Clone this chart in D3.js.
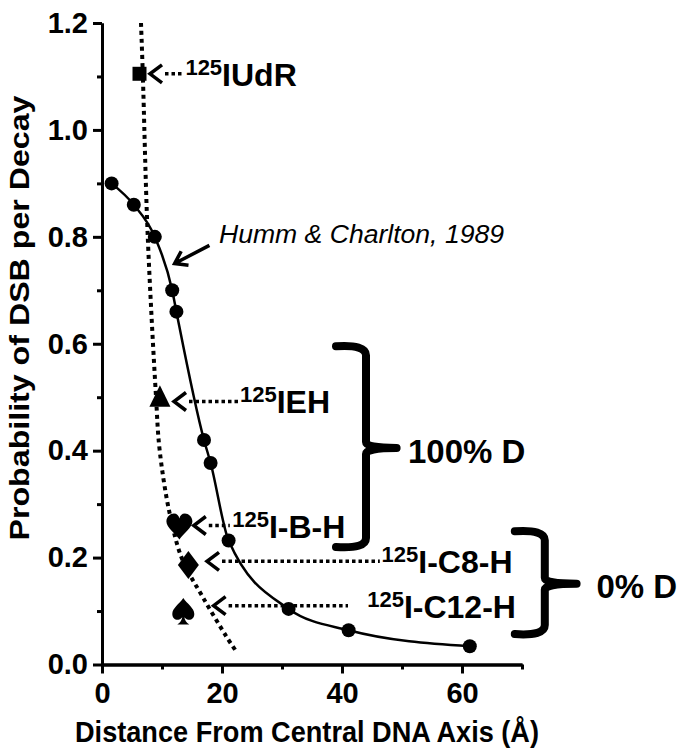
<!DOCTYPE html>
<html>
<head>
<meta charset="utf-8">
<script src="https://cdn.jsdelivr.net/npm/d3@7"></script>
<style>
  body { margin: 0; background: #fff; }
  text { font-family: "Liberation Sans", Arial, sans-serif; fill: #000; }
</style>
</head>
<body>
<script>
var w = 684;
var h = 750;

// Humm & Charlton, 1989 (circles, solid curve)
var hummX = [1.6, 5.3, 8.8, 11.7, 12.4, 17.0, 18.1, 21.1, 31.1, 41.1, 61.3];
var hummY = [0.90, 0.86, 0.80, 0.70, 0.66, 0.42, 0.377, 0.232, 0.104, 0.064, 0.034];

// dotted curve
var dotX = [6.5, 6.8, 7.6, 9.0, 9.6, 11.25, 13.4, 16.75, 20.75, 22.4];
var dotY = [1.2, 1.105, 0.807, 0.501, 0.402, 0.284, 0.196, 0.127, 0.052, 0.024];

// compounds
var compounds = ["IUdR", "IEH", "I-B-H", "I-C8-H", "I-C12-H"];
var compShape = ["square", "triangle", "heart", "diamond", "spade"];
var compX = [6.25, 9.65, 12.9, 14.4, 13.55];
var compY = [1.105, 0.50, 0.26, 0.186, 0.10];

// annotation arrows (tip x, end x, y)
var arrowTipX = [8.0, 12.0, 15.3, 17.5, 18.6];
var arrowEndX = [13.5, 22.7, 21.3, 46.3, 41.0];
var arrowY = [1.105, 0.492, 0.26, 0.193, 0.11];
var labelX = [13.9, 23.0, 21.7, 46.6, 44.2];

var xTicks = [0, 20, 40, 60];
var xMinor = [10, 30, 50, 70];
var yTicks = [0, 0.2, 0.4, 0.6, 0.8, 1.0, 1.2];
var yMinor = [0.1, 0.3, 0.5, 0.7, 0.9, 1.1];

var x = d3.scaleLinear()
  .domain([0, 70])
  .range([102, 522]);

var y = d3.scaleLinear()
  .domain([0, 1.2])
  .range([664.5, 23]);

var svg = d3.select("body").append("svg")
  .attr("width", w)
  .attr("height", h);

// axes
svg.append("g")
  .attr("transform", "translate(0," + y(0) + ")")
  .call(d3.axisBottom(x).tickValues(xTicks).tickSize(9).tickPadding(9).tickSizeOuter(0).tickFormat(d3.format("d")));
svg.append("g")
  .attr("transform", "translate(0," + y(0) + ")")
  .call(d3.axisBottom(x).tickValues(xMinor).tickSize(5).tickSizeOuter(0).tickFormat(""));

svg.append("g")
  .attr("transform", "translate(" + x(0) + ",0)")
  .call(d3.axisLeft(y).tickValues(yTicks).tickSize(9).tickPadding(5).tickSizeOuter(0).tickFormat(d3.format(".1f")));
svg.append("g")
  .attr("transform", "translate(" + x(0) + ",0)")
  .call(d3.axisLeft(y).tickValues(yMinor).tickSize(5).tickSizeOuter(0).tickFormat(""));

svg.selectAll(".domain, .tick line")
  .attr("stroke", "#000")
  .attr("stroke-width", 3);
svg.selectAll(".tick text")
  .style("font-size", "29px")
  .style("font-weight", "bold")
  .style("font-family", "'Liberation Sans', Arial, sans-serif");

svg.append("text")
  .attr("x", 307)
  .attr("y", 742)
  .attr("text-anchor", "middle")
  .attr("textLength", 464)
  .attr("lengthAdjust", "spacingAndGlyphs")
  .style("font-size", "29px")
  .style("font-weight", "bold")
  .text("Distance From Central DNA Axis (\u00C5)");

svg.append("text")
  .attr("transform", "translate(29,318) rotate(-90)")
  .attr("text-anchor", "middle")
  .attr("textLength", 445)
  .attr("lengthAdjust", "spacingAndGlyphs")
  .style("font-size", "28px")
  .style("font-weight", "bold")
  .text("Probability of DSB per Decay");

// dotted curve
var dotData = dotX.map(function (d, i) { return [d, dotY[i]]; });
svg.append("path")
  .datum(dotData)
  .attr("fill", "none")
  .attr("stroke", "#000")
  .attr("stroke-width", 4)
  .attr("stroke-dasharray", "4,4")
  .attr("d", d3.line()
    .x(function (d) { return x(d[0]); })
    .y(function (d) { return y(d[1]); })
    .curve(d3.curveCatmullRom));

// Humm curve + circles
var hummData = hummX.map(function (d, i) { return [d, hummY[i]]; });
svg.append("path")
  .datum(hummData)
  .attr("fill", "none")
  .attr("stroke", "#000")
  .attr("stroke-width", 2.5)
  .attr("d", d3.line()
    .x(function (d) { return x(d[0]); })
    .y(function (d) { return y(d[1]); })
    .curve(d3.curveMonotoneX));

svg.selectAll(".pt")
  .data(hummData)
  .enter()
  .append("circle")
  .attr("cx", function (d) { return x(d[0]); })
  .attr("cy", function (d) { return y(d[1]); })
  .attr("r", 7)
  .attr("fill", "#000");

// compound markers
var shapes = {
  square: "M-7,-7H7V7H-7Z",
  triangle: "M0,-12L10.5,9.5L-10.5,9.5Z",
  heart: "M0,14C-4,8 -13,2 -13,-4C-13,-9 -9,-12 -5.5,-12C-2.5,-12 -0.5,-10 0,-7C0.5,-10 2.5,-12 5.5,-12C9,-12 13,-9 13,-4C13,2 4,8 0,14Z",
  diamond: "M0,-14L10.5,0L0,14L-10.5,0Z",
  spade: "M0,-13C4,-7 11,-3 11,3C11,7.5 7.5,9.5 4,8.5C2.5,7.8 1.5,7 1,6C1.5,9 3,11.5 6,13.5L-6,13.5C-3,11.5 -1.5,9 -1,6C-1.5,7 -2.5,7.8 -4,8.5C-7.5,9.5 -11,7.5 -11,3C-11,-3 -4,-7 0,-13Z"
};
svg.selectAll(".cmp")
  .data(compounds)
  .enter()
  .append("path")
  .attr("transform", function (d, i) { return "translate(" + x(compX[i]) + "," + y(compY[i]) + ")"; })
  .attr("d", function (d, i) { return shapes[compShape[i]]; })
  .attr("fill", "#000");

// arrows and labels
compounds.forEach(function (c, i) {
  var tx = x(arrowTipX[i]), ty = y(arrowY[i]);
  svg.append("path")
    .attr("d", "M" + (tx + 12) + "," + (ty - 9) + "L" + tx + "," + ty + "L" + (tx + 12) + "," + (ty + 9))
    .attr("fill", "none")
    .attr("stroke", "#000")
    .attr("stroke-width", 3.5);
  svg.append("line")
    .attr("x1", tx + 15)
    .attr("x2", x(arrowEndX[i]))
    .attr("y1", ty)
    .attr("y2", ty)
    .attr("stroke", "#000")
    .attr("stroke-width", 3.5)
    .attr("stroke-dasharray", "3.5,3");
  var t = svg.append("text")
    .attr("x", x(labelX[i]))
    .attr("y", ty + 12)
    .style("font-weight", "bold");
  t.append("tspan").style("font-size", "22px").attr("dy", -11).text("125");
  t.append("tspan").style("font-size", "32px").attr("dy", 11).text(c);
});

// Humm & Charlton label
var ht = [x(12.1), y(0.75)], hs = [x(17.9), y(0.784)];
var ang = Math.atan2(hs[1] - ht[1], hs[0] - ht[0]);
svg.append("path")
  .attr("d", "M" + hs[0] + "," + hs[1] + "L" + ht[0] + "," + ht[1]
    + "M" + (ht[0] + 14 * Math.cos(ang - 0.6)) + "," + (ht[1] + 14 * Math.sin(ang - 0.6))
    + "L" + ht[0] + "," + ht[1]
    + "L" + (ht[0] + 14 * Math.cos(ang + 0.6)) + "," + (ht[1] + 14 * Math.sin(ang + 0.6)))
  .attr("fill", "none")
  .attr("stroke", "#000")
  .attr("stroke-width", 3.5);
svg.append("text")
  .attr("x", 219)
  .attr("y", 243)
  .attr("textLength", 285)
  .attr("lengthAdjust", "spacingAndGlyphs")
  .style("font-size", "25px")
  .style("font-style", "italic")
  .text("Humm & Charlton, 1989");

// brackets
var brX0 = [39, 68.8], brX1 = [44, 73.8], brX2 = [49.1, 79.1];
var brTop = [0.597, 0.251], brMid = [0.405, 0.151], brBot = [0.218, 0.055];
var brLabel = ["100% D", "0% D"], brLabelX = [51, 82.4], brLabelY = [0.376, 0.124];
brLabel.forEach(function (b, i) {
  var x0 = x(brX0[i]), x1 = x(brX1[i]), x2 = x(brX2[i]);
  var yt = y(brTop[i]), ym = y(brMid[i]), yb = y(brBot[i]);
  svg.append("path")
    .attr("d", "M" + x0 + "," + (yt + 1) + "Q" + x1 + "," + (yt - 1) + " " + x1 + "," + (yt + 10)
      + "L" + x1 + "," + (ym - 6) + "Q" + x1 + "," + ym + " " + x2 + "," + ym
      + "M" + x2 + "," + ym + "Q" + x1 + "," + ym + " " + x1 + "," + (ym + 6)
      + "L" + x1 + "," + (yb - 10) + "Q" + x1 + "," + (yb + 1) + " " + x0 + "," + (yb - 1))
    .attr("fill", "none")
    .attr("stroke", "#000")
    .attr("stroke-width", 8)
    .attr("stroke-linecap", "round");
  svg.append("text")
    .attr("x", x(brLabelX[i]))
    .attr("y", y(brLabelY[i]))
    .style("font-size", "33px")
    .style("font-weight", "bold")
    .text(b);
});
</script>
</body>
</html>
